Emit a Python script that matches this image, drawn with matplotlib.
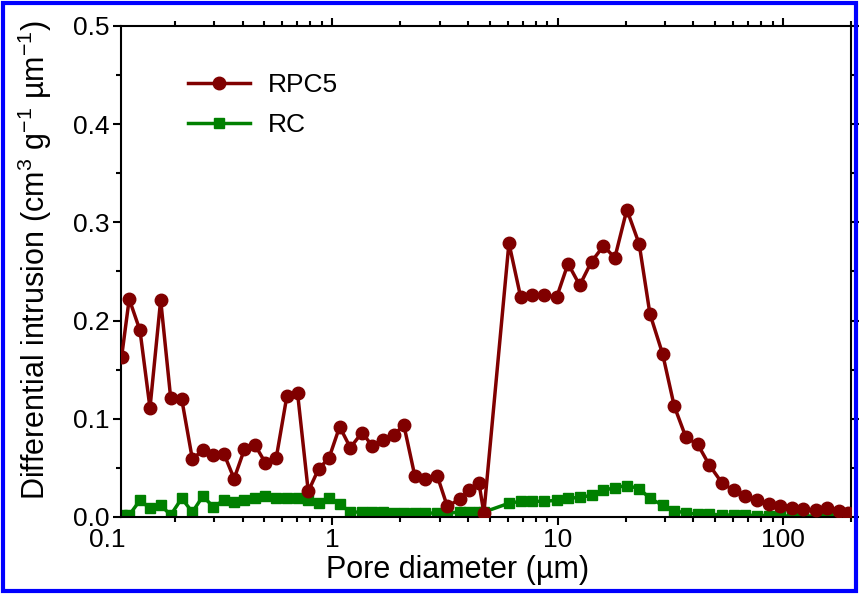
import matplotlib
matplotlib.use("Agg")
import matplotlib.pyplot as plt
from matplotlib.patches import Rectangle
from matplotlib.ticker import MultipleLocator, LogLocator, NullFormatter

# pore diameters (um), shared by both samples
diameter = [0.1162, 0.1256, 0.1402, 0.1553, 0.1732, 0.1919, 0.2148, 0.2394, 0.2663, 0.2968,
            0.3311, 0.3667, 0.4075, 0.4549, 0.5053, 0.5638, 0.6292, 0.7013, 0.7822, 0.8694,
            0.9667, 1.078, 1.202, 1.355, 1.501, 1.673, 1.873, 2.075, 2.322, 2.590,
            2.920, 3.235, 3.679, 4.034, 4.469, 4.703, 6.075, 6.847, 7.720, 8.692,
            9.898, 11.11, 12.52, 14.12, 15.96, 17.92, 20.26, 22.98, 25.64, 29.20,
            32.87, 37.06, 41.78, 47.03, 53.42, 60.38, 67.78, 76.40, 86.93, 97.27,
            109.3, 123.1, 139.2, 156.9, 176.1, 194.0]

rpc5 = [0.163, 0.222, 0.190, 0.111, 0.221, 0.121, 0.120, 0.059, 0.068, 0.063,
        0.064, 0.039, 0.069, 0.073, 0.055, 0.060, 0.1235, 0.126, 0.026, 0.049,
        0.060, 0.092, 0.0706, 0.086, 0.0726, 0.078, 0.083, 0.094, 0.042, 0.039,
        0.042, 0.011, 0.018, 0.027, 0.035, 0.004, 0.279, 0.224, 0.226, 0.226,
        0.224, 0.258, 0.236, 0.260, 0.276, 0.264, 0.313, 0.278, 0.207, 0.166,
        0.113, 0.081, 0.074, 0.053, 0.035, 0.027, 0.021, 0.017, 0.013, 0.0115,
        0.0095, 0.008, 0.007, 0.009, 0.006, 0.0045]

rc = [0.002, 0.002, 0.017, 0.009, 0.012, 0.002, 0.019, 0.005, 0.021, 0.0105,
      0.017, 0.0155, 0.017, 0.0197, 0.021, 0.019, 0.019, 0.0195, 0.017, 0.014,
      0.019, 0.013, 0.005, 0.005, 0.005, 0.005, 0.004, 0.004, 0.004, 0.004,
      0.004, 0.004, 0.005, 0.005, 0.005, 0.005, 0.014, 0.016, 0.016, 0.016,
      0.017, 0.019, 0.020, 0.022, 0.027, 0.030, 0.032, 0.029, 0.019, 0.012,
      0.0065, 0.004, 0.003, 0.003, 0.002, 0.002, 0.002, 0.0015, 0.0015, 0.001,
      0.001, 0.001, 0.001, 0.001, 0.001, 0.001]

xticks = [1, 10, 100]
xtick_labels = ["1", "10", "100"]

plt.rcParams["font.family"] = ["Liberation Sans", "DejaVu Sans"]
plt.rcParams["mathtext.fontset"] = "custom"
plt.rcParams["mathtext.rm"] = "Liberation Sans"
plt.rcParams["mathtext.it"] = "Liberation Sans"

fig = plt.figure(figsize=(8.59, 5.94), dpi=100)
ax = fig.add_axes([121 / 859, 1 - 517 / 594, 730 / 859, 491 / 594])

ax.plot(diameter, rc, color="#008000", lw=2.5, marker="s", markersize=7.5,
        label="RC", zorder=2)
ax.plot(diameter, rpc5, color="#800000", lw=2.5, marker="o", markersize=9,
        label="RPC5", zorder=3)

ax.set_xscale("log")
ax.set_xlim(0.1155, 200)
ax.set_ylim(0, 0.5)
ax.set_xticks(xticks)
ax.set_xticklabels(xtick_labels)
ax.xaxis.set_minor_locator(LogLocator(base=10, subs=range(2, 10), numticks=20))
ax.xaxis.set_minor_formatter(NullFormatter())
ax.yaxis.set_major_locator(MultipleLocator(0.1))
ax.yaxis.set_minor_locator(MultipleLocator(0.05))
ax.yaxis.set_major_formatter(plt.FuncFormatter(lambda v, p: f"{v:.1f}"))

# the 0.1 label sits just left of the axis start
ax.text(0.1, -0.0224, "0.1", transform=ax.get_xaxis_transform(), ha="center",
        va="top", fontsize=19, clip_on=False)

ax.tick_params(which="both", direction="out", top=True, right=True,
               width=1.5, labelsize=19, pad=2)
ax.tick_params(which="major", length=6)
ax.tick_params(which="minor", length=3.5)
for s in ax.spines.values():
    s.set_linewidth(1.5)

ax.set_xlabel("Pore diameter (\u00b5m)", fontsize=22)
ax.xaxis.set_label_coords((458 - 121) / 730, -0.078)
ax.xaxis.label.set_va("top")
ax.set_ylabel("Differential intrusion (cm$^{3}$ g$^{-1}$ \u00b5m$^{-1}$)", fontsize=22)
ax.yaxis.set_label_coords(-0.092, 0.523)

handles, labels = ax.get_legend_handles_labels()
ax.legend(handles[::-1], labels[::-1], loc="upper left", bbox_to_anchor=(0.077, 0.925),
          borderaxespad=0, frameon=False, fontsize=19, handlelength=2.35,
          handletextpad=0.7, labelspacing=0.6)

fig.patches.append(Rectangle((3 / 859, 3 / 594), 853 / 859, 588 / 594,
                             transform=fig.transFigure, fill=False,
                             edgecolor="#0000ff", lw=3))

fig.savefig("out.png", dpi=100)
